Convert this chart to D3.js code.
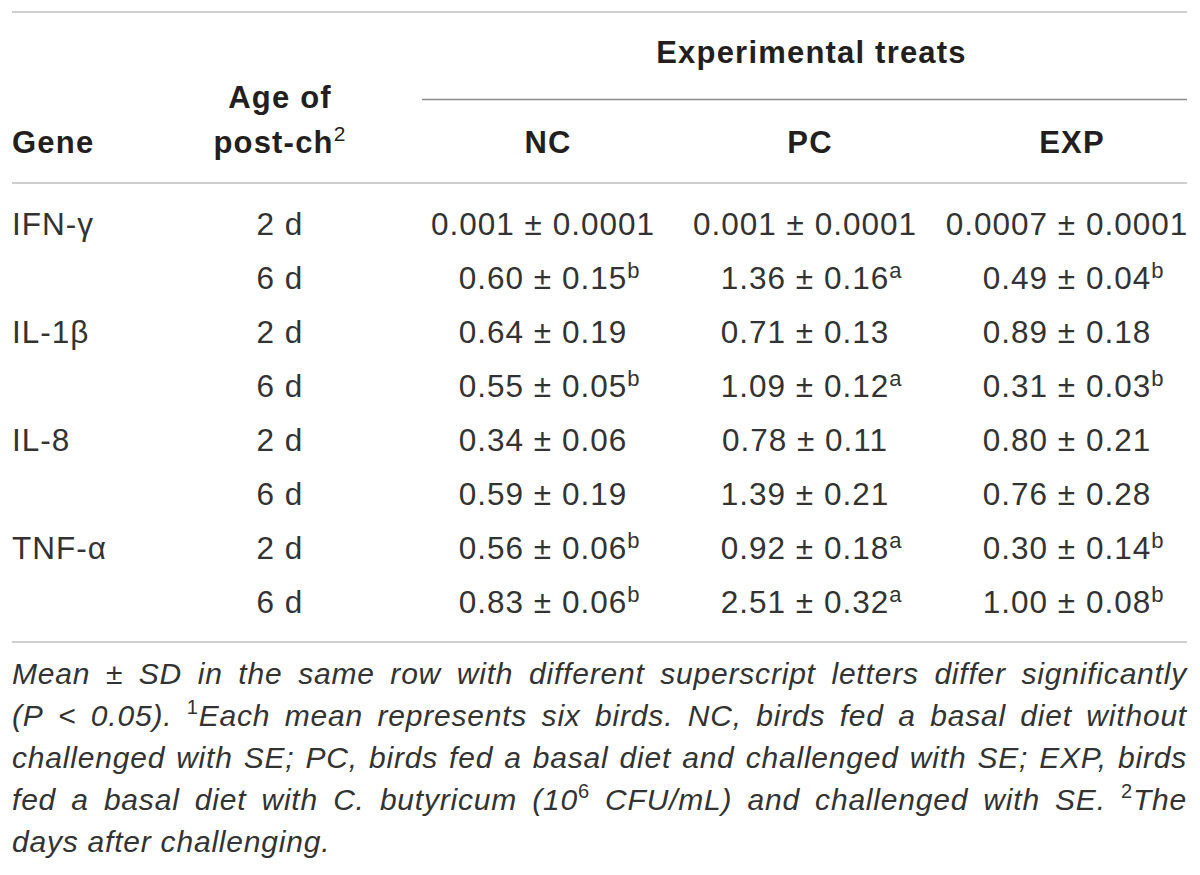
<!DOCTYPE html>
<html>
<head>
<meta charset="utf-8">
<script src="https://cdn.jsdelivr.net/npm/d3@7"></script>
<style>
  body { margin: 0; background: #fff; }
  svg { display: block; }
</style>
</head>
<body>
<svg id="chart" width="1200" height="875"></svg>
<script>
const genes = ["IFN-γ", "IL-1β", "IL-8", "TNF-α"];
const ages = ["2 d", "6 d"];
const treatments = ["NC", "PC", "EXP"];

const ncMean = ["0.001", "0.60", "0.64", "0.55", "0.34", "0.59", "0.56", "0.83"];
const ncSD   = ["0.0001", "0.15", "0.19", "0.05", "0.06", "0.19", "0.06", "0.06"];
const ncSig  = ["", "b", "", "b", "", "", "b", "b"];

const pcMean = ["0.001", "1.36", "0.71", "1.09", "0.78", "1.39", "0.92", "2.51"];
const pcSD   = ["0.0001", "0.16", "0.13", "0.12", "0.11", "0.21", "0.18", "0.32"];
const pcSig  = ["", "a", "", "a", "", "", "a", "a"];

const expMean = ["0.0007", "0.49", "0.89", "0.31", "0.80", "0.76", "0.30", "1.00"];
const expSD   = ["0.0001", "0.04", "0.18", "0.03", "0.21", "0.28", "0.14", "0.08"];
const expSig  = ["", "b", "", "b", "", "", "b", "b"];

// {x} marks a superscript
const footLines = [
  "Mean ± SD in the same row with different superscript letters differ significantly",
  "(P < 0.05). {1}Each mean represents six birds. NC, birds fed a basal diet without",
  "challenged with SE; PC, birds fed a basal diet and challenged with SE; EXP, birds",
  "fed a basal diet with C. butyricum (10{6} CFU/mL) and challenged with SE. {2}The",
  "days after challenging."
];

const left = 12, right = 1187;
const svg = d3.select('#chart');

const font = "'Liberation Sans', Arial, Helvetica, sans-serif";
const ink = '#231f20';

const cols = {
  NC: { mean: ncMean, sd: ncSD, sig: ncSig },
  PC: { mean: pcMean, sd: pcSD, sig: pcSig },
  EXP: { mean: expMean, sd: expSD, sig: expSig }
};

const rows = genes.flatMap((g, gi) => ages.map((a, ai) => ({
  gene: ai === 0 ? g : '',
  age: a,
  i: gi * ages.length + ai
})));

const x = d3.scaleBand()
    .domain(treatments)
    .range([412, 1198]);

const y = d3.scalePoint()
    .domain(d3.range(rows.length))
    .range([235, 613]);

const ageX = 280;

// rules
const rules = [
  { y: 12, x1: left, x2: right, c: '#cfcfcf', w: 2 },
  { y: 99.5, x1: 422, x2: right, c: '#8a8a8a', w: 1.5 },
  { y: 183, x1: left, x2: right, c: '#cfcfcf', w: 2 },
  { y: 642, x1: left, x2: right, c: '#cfcfcf', w: 2 }
];

svg.selectAll('line.rule')
  .data(rules)
  .join('line')
    .attr('class', 'rule')
    .attr('x1', d => d.x1)
    .attr('x2', d => d.x2)
    .attr('y1', d => d.y)
    .attr('y2', d => d.y)
    .attr('stroke', d => d.c)
    .attr('stroke-width', d => d.w);

// header
const head = svg.append('g')
    .attr('font-family', font)
    .attr('font-weight', 'bold')
    .attr('font-size', 31)
    .attr('letter-spacing', 1.2)
    .attr('fill', ink);

head.append('text')
    .attr('x', (x.range()[0] + right) / 2 + 12)
    .attr('y', 63)
    .attr('text-anchor', 'middle')
    .text('Experimental treats');

head.append('text')
    .attr('x', left)
    .attr('y', 153)
    .text('Gene');

head.append('text')
    .attr('x', ageX)
    .attr('y', 108)
    .attr('text-anchor', 'middle')
    .text('Age of');

const post = head.append('text')
    .attr('x', ageX)
    .attr('y', 153)
    .attr('text-anchor', 'middle');
post.append('tspan').text('post-ch');
post.append('tspan')
    .attr('font-size', 21)
    .attr('font-weight', 'normal')
    .attr('dy', -12)
    .text('2');

head.selectAll('text.col')
  .data(treatments)
  .join('text')
    .attr('class', 'col')
    .attr('x', d => x(d) + x.bandwidth() / 2 + 5)
    .attr('y', 153)
    .attr('text-anchor', 'middle')
    .text(d => d);

// body
const body = svg.append('g')
    .attr('font-family', font)
    .attr('font-size', 31.5)
    .attr('letter-spacing', 1)
    .attr('fill', '#333');

const row = body.selectAll('g.row')
  .data(rows)
  .join('g')
    .attr('class', 'row')
    .attr('transform', d => `translate(0,${y(d.i)})`);

row.append('text')
    .attr('x', left)
    .text(d => d.gene);

row.append('text')
    .attr('x', ageX)
    .attr('text-anchor', 'middle')
    .text(d => d.age);

treatments.forEach(t => {
  const cx = x(t) + x.bandwidth() / 2;
  row.each(function(d) {
    const g = d3.select(this);
    const txt = g.append('text')
        .attr('x', cx)
        .attr('text-anchor', 'middle')
        .text(`${cols[t].mean[d.i]} ± ${cols[t].sd[d.i]}`);
    const sig = cols[t].sig[d.i];
    if (sig) {
      const w = txt.node().getComputedTextLength();
      g.append('text')
          .attr('x', cx + w / 2)
          .attr('y', -11)
          .attr('font-size', 22)
          .attr('letter-spacing', 0)
          .text(sig);
    }
  });
});

// footnote, justified
const foot = svg.append('g')
    .attr('font-family', font)
    .attr('font-style', 'italic')
    .attr('font-size', 30)
    .attr('letter-spacing', 0.8)
    .attr('fill', '#333');

const footY = d3.scalePoint()
    .domain(d3.range(footLines.length))
    .range([684, 852]);

footLines.forEach((line, li) => {
  const words = line.split(' ');
  const nodes = words.map(wd => {
    const t = foot.append('text').attr('y', footY(li));
    const parts = wd.split(/(\{[^}]*\})/).filter(p => p);
    let raised = false;
    parts.forEach(p => {
      if (p.startsWith('{')) {
        t.append('tspan')
            .attr('font-size', 20)
            .attr('font-style', 'normal')
            .attr('dy', raised ? 0 : -12)
            .text(p.slice(1, -1));
        raised = true;
      } else {
        t.append('tspan')
            .attr('dy', raised ? 12 : 0)
            .text(p);
        raised = false;
      }
    });
    return { t, w: t.node().getComputedTextLength() };
  });
  const total = d3.sum(nodes, n => n.w);
  const last = li === footLines.length - 1;
  const gap = last ? 9 : (right - left - total) / (nodes.length - 1);
  let cur = left;
  nodes.forEach(n => {
    n.t.attr('x', cur);
    cur += n.w + gap;
  });
});
</script>
</body>
</html>
